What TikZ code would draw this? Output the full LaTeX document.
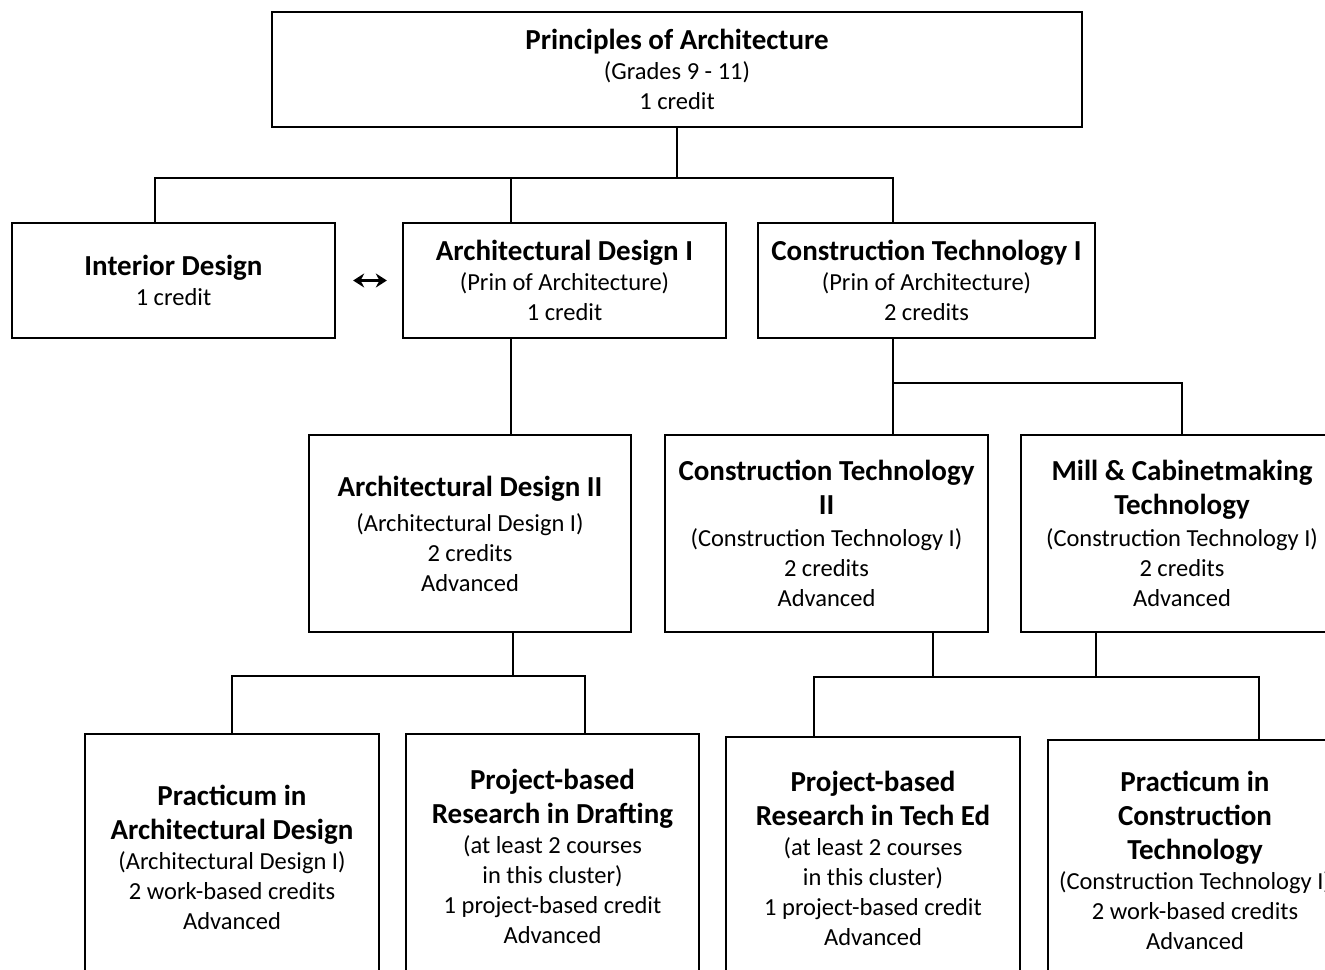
\documentclass[tikz,border=0pt]{standalone}
\usepackage{fontspec}
\setmainfont{Carlito}
\usepackage{tikz}
\usetikzlibrary{positioning,arrows.meta}
\newcommand{\ttl}{\fontsize{29}{30}\selectfont\bfseries}

\begin{document}
\begin{tikzpicture}[x=1pt,y=-1pt,>=stealth,line width=2.3pt]
\tikzstyle{course}=[rectangle,draw=black,align=center,inner sep=0pt,font=\fontsize{24.5}{30}\selectfont]
\useasboundingbox (0,0) rectangle (1325,969);
\clip (0,0) rectangle (1325,969);
% top level
\node[course,minimum width=810,minimum height=115] (prin) at (677,69.5) {\ttl Principles of Architecture\\(Grades 9 - 11)\\1 credit};
% first row
\node[course,minimum width=323,minimum height=115] (intd) at (173.5,280.5) {\ttl Interior Design\\1 credit};
\node[course,minimum width=323,minimum height=115] (ard1) at (564.5,280.5) {\ttl Architectural Design I\\(Prin of Architecture)\\1 credit};
\node[course,minimum width=337,minimum height=115] (cnt1) at (926.5,280.5) {\ttl Construction Technology I\\(Prin of Architecture)\\2 credits};
% second row
\node[course,minimum width=322,minimum height=197] (ard2) at (470,533.5) {\ttl Architectural Design II\\[5pt](Architectural Design I)\\2 credits\\Advanced};
\node[course,minimum width=323,minimum height=197] (cnt2) at (826.5,533.5) {\ttl Construction Technology\\[4pt]\ttl II\\[2pt](Construction Technology I)\\2 credits\\Advanced};
\node[course,minimum width=322,minimum height=197] (mill) at (1182,533.5) {\ttl Mill \& Cabinetmaking\\[4pt]\ttl Technology\\[2pt](Construction Technology I)\\2 credits\\Advanced};
% third row
\node[course,minimum width=294,minimum height=246] (pard) at (232,857) {\ttl Practicum in\\[4pt]\ttl Architectural Design\\(Architectural Design I)\\2 work-based credits\\Advanced};
\node[course,minimum width=293,minimum height=244] (prdr) at (552.5,856) {\ttl Project-based\\[4pt]\ttl Research in Drafting\\(at least 2 courses\\in this cluster)\\1 project-based credit\\Advanced};
\node[course,minimum width=294,minimum height=242] (prte) at (873,858) {\ttl Project-based\\[4pt]\ttl Research in Tech Ed\\(at least 2 courses\\in this cluster)\\1 project-based credit\\Advanced};
\node[course,minimum width=294,minimum height=240] (pcnt) at (1195,860) {\ttl Practicum in\\[4pt]\ttl Construction\\[4pt]\ttl Technology\\(Construction Technology I)\\2 work-based credits\\Advanced};
% bus lines
\coordinate (bus1) at (677,178);
\coordinate (bus2) at (893,383);
\coordinate (bus3) at (513,676);
\coordinate (bus4) at (933,677);
\draw (prin.south) -- (bus1);
\draw ([xshift=-18.5]intd.north) |- (bus1) -| ([xshift=-33.5]cnt1.north);
\draw ([xshift=-53.5]ard1.north) -- ([xshift=-53.5]ard1.north |- bus1);
\draw[{Stealth[length=11pt,width=14pt]}-{Stealth[length=11pt,width=14pt]},line width=3.2pt,shorten <=17,shorten >=15] (intd.east) -- (ard1.west);
\draw ([xshift=-53.5]ard1.south) -- ([xshift=-53.5]ard1.south |- ard2.north);
\draw ([xshift=-33.5]cnt1.south) -- ([xshift=-33.5]cnt1.south |- cnt2.north);
\draw (bus2) -| (mill.north);
\draw ([xshift=43]ard2.south) -- (bus3);
\draw (pard.north) |- (bus3) -| ([xshift=32.5]prdr.north);
\draw ([xshift=106.5]cnt2.south) -- (bus4);
\draw ([xshift=-86]mill.south) -- ([xshift=-86]mill.south |- bus4);
\draw ([xshift=-59]prte.north) |- (bus4) -| ([xshift=64]pcnt.north);
\end{tikzpicture}
\end{document}
